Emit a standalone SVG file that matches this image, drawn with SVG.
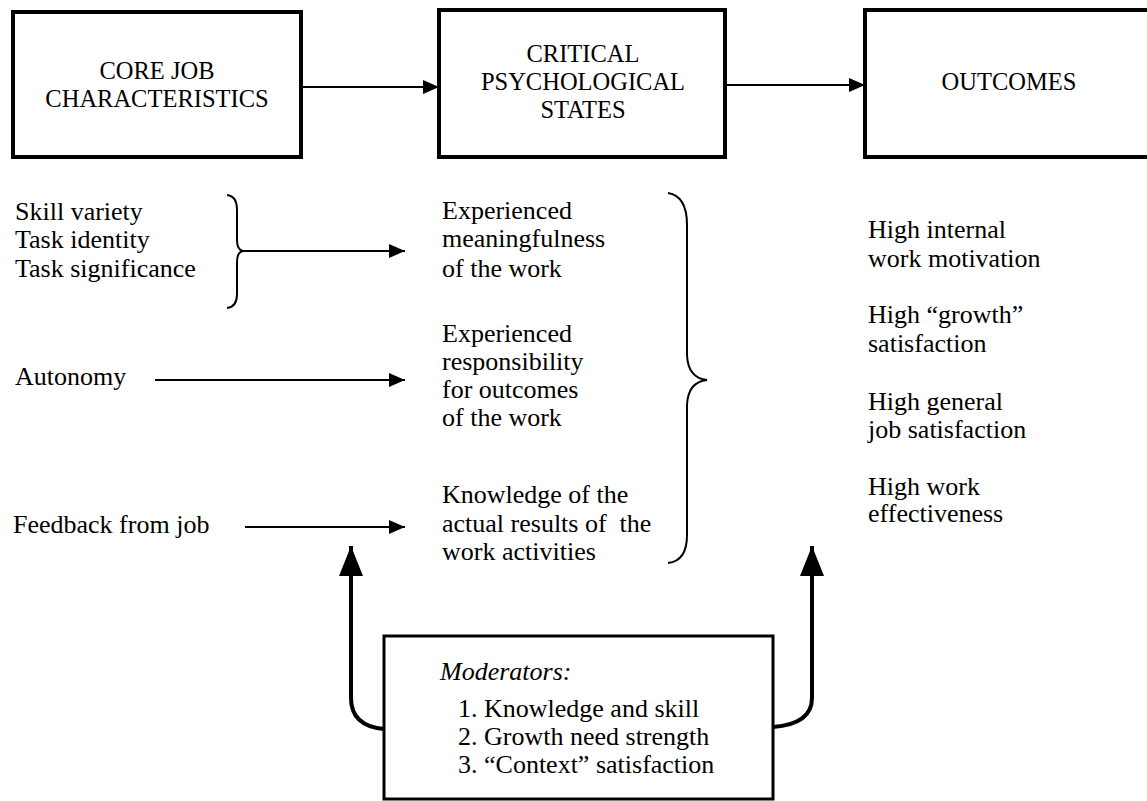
<svg xmlns="http://www.w3.org/2000/svg" width="1147" height="801" viewBox="0 0 1147 801">
<style>
  .box { fill: #fff; stroke: #000; stroke-width: 4; }
  .mbox { fill: #fff; stroke: #000; stroke-width: 3; }
  .hd { font-family: 'Liberation Serif', 'DejaVu Serif', serif; font-size: 24.5px; fill: #000; text-anchor: middle; }
  .t { font-family: 'Liberation Serif', 'DejaVu Serif', serif; font-size: 26px; fill: #000; }
  .it { font-style: italic; }
  .ln { fill: none; stroke: #000; stroke-width: 2; }
  .thick { fill: none; stroke: #000; stroke-width: 4; }
  .brace { fill: none; stroke: #000; stroke-width: 2; }
</style>
<defs>
  <marker id="ah" markerUnits="userSpaceOnUse" markerWidth="16" markerHeight="14" viewBox="0 0 16 14" refX="16" refY="7" orient="auto">
    <path d="M0,0 L16,7 L0,14 z" fill="#000"/>
  </marker>
  <marker id="ahb" markerUnits="userSpaceOnUse" markerWidth="30" markerHeight="24" viewBox="0 0 30 24" refX="30" refY="12" orient="auto">
    <path d="M0,0 L30,12 L0,24 z" fill="#000"/>
  </marker>
</defs>
<rect width="1147" height="801" fill="#fff"/>

<g id="core">
  <rect class="box" x="13" y="12" width="288" height="145"/>
  <text class="hd" x="157" y="79">CORE JOB</text>
  <text class="hd" x="157" y="107">CHARACTERISTICS</text>
</g>
<g id="critical">
  <rect class="box" x="439" y="10" width="286" height="147"/>
  <text class="hd" x="583" y="62">CRITICAL</text>
  <text class="hd" x="583" y="90">PSYCHOLOGICAL</text>
  <text class="hd" x="583" y="118">STATES</text>
</g>
<g id="outcomes">
  <rect class="box" x="865" y="10" width="290" height="147"/>
  <text class="hd" x="1009" y="90">OUTCOMES</text>
</g>

<g id="core-list">
  <text class="t" x="15" y="220">Skill variety</text>
  <text class="t" x="15" y="248">Task identity</text>
  <text class="t" x="15" y="277">Task significance</text>
  <text class="t" x="15" y="385">Autonomy</text>
  <text class="t" x="13" y="533">Feedback from job</text>
</g>
<g id="states-list">
  <text class="t" x="442" y="219">Experienced</text>
  <text class="t" x="442" y="247">meaningfulness</text>
  <text class="t" x="442" y="277">of the work</text>
  <text class="t" x="442" y="342">Experienced</text>
  <text class="t" x="442" y="370">responsibility</text>
  <text class="t" x="442" y="398">for outcomes</text>
  <text class="t" x="442" y="426">of the work</text>
  <text class="t" x="442" y="503">Knowledge of the</text>
  <text class="t" x="442" y="532" xml:space="preserve">actual results of  the</text>
  <text class="t" x="442" y="560">work activities</text>
</g>
<g id="outcomes-list">
  <text class="t" x="868" y="238">High internal</text>
  <text class="t" x="868" y="267">work motivation</text>
  <text class="t" x="868" y="323">High “growth”</text>
  <text class="t" x="868" y="352">satisfaction</text>
  <text class="t" x="868" y="410">High general</text>
  <text class="t" x="868" y="438">job satisfaction</text>
  <text class="t" x="868" y="495">High work</text>
  <text class="t" x="868" y="522">effectiveness</text>
</g>
<g id="moderators">
  <rect class="mbox" x="384" y="636" width="389" height="163"/>
  <text class="t it" x="440" y="680">Moderators:</text>
  <text class="t" x="458" y="717">1. Knowledge and skill</text>
  <text class="t" x="458" y="745">2. Growth need strength</text>
  <text class="t" x="458" y="773">3. “Context” satisfaction</text>
</g>

<g id="connectors">
  <line class="ln" x1="301" y1="87" x2="439" y2="87" marker-end="url(#ah)"/>
  <line class="ln" x1="725" y1="85" x2="865" y2="85" marker-end="url(#ah)"/>
  <path class="brace" d="M227,195 Q237,196 237,210 L237,240 Q237,250 243,251 Q237,252 237,262 L237,294 Q237,307 227,308"/>
  <line class="ln" x1="242" y1="251" x2="405" y2="251" marker-end="url(#ah)"/>
  <line class="ln" x1="155" y1="380" x2="405" y2="380" marker-end="url(#ah)"/>
  <line class="ln" x1="245" y1="527" x2="405" y2="527" marker-end="url(#ah)"/>
  <path class="brace" d="M668,193 Q687,196 687,225 L687,355 Q688,378 707,380 Q688,382 687,405 L687,535 Q687,561 668,563"/>
  <path class="thick" d="M384,729 Q351,726 351,698 L351,546" marker-end="url(#ahb)"/>
  <path class="thick" d="M773,727 Q812,724 812,698 L812,546" marker-end="url(#ahb)"/>
</g>
</svg>
